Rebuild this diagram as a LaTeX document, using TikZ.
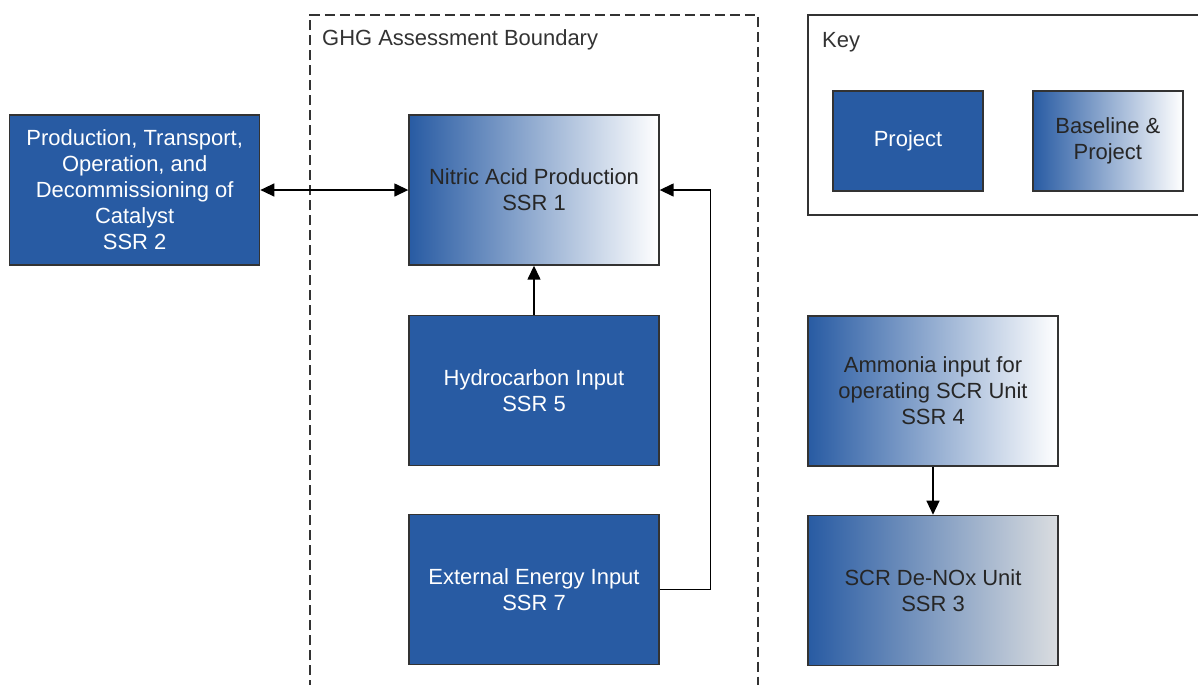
\documentclass[tikz,border=0pt]{standalone}
\usepackage{fontspec}
\setmainfont{Liberation Sans}
\usetikzlibrary{positioning,arrows.meta}
\definecolor{ssrblue}{RGB}{40,91,163}
\definecolor{ssrgray}{RGB}{218,221,224}
\begin{document}
\begin{tikzpicture}[x=0.02cm,y=-0.02cm,
	every node/.style={font=\fontsize{12.5}{14.8}\selectfont,align=center},
	ssr/.style={rectangle,draw=black!80,line width=0.8pt,
	minimum width=5cm,minimum height=3cm,inner sep=2pt},
	proj/.style={ssr,fill=ssrblue,text=white},
	base/.style={ssr,left color=ssrblue,right color=white,text=black!85},
	flow/.style={-{Triangle[length=2.8mm,width=2.6mm]},line width=0.8pt}]
\useasboundingbox (0,0) rectangle (1198,684);
% assessment boundary
\draw[line width=0.9pt,dash pattern=on 0.2cm off 0.1cm,black!80]
	(310,690) -- (310,15) -- (758,15) -- (758,690);
\node[anchor=west,text=black!80] (bndlbl) at (316,40) {GHG Assessment Boundary};
% key
\draw[line width=0.8pt,black!80] (1210,15) -- (808,15) -- (808,215) -- (1210,215);
\node[anchor=west,text=black!80] (keylbl) at (816,42) {Key};
\node[proj,minimum width=3cm,minimum height=2cm] (kproj) at (908,141) {Project};
\node[base,minimum width=3cm,minimum height=2cm,right=0.97cm of kproj] (kbase) {Baseline \&\\Project};
% main column
\node[base] (ssr1) at (534,190) {Nitric Acid Production\\SSR 1};
\node[proj,below=0.98cm of ssr1] (ssr5) {Hydrocarbon Input\\SSR 5};
\node[proj,below=0.95cm of ssr5] (ssr7) {External Energy Input\\SSR 7};
\node[proj,left=2.96cm of ssr1] (ssr2) {Production, Transport,\\Operation, and\\Decommissioning of\\Catalyst\\SSR 2};
% outside
\node[base] (ssr4) at (933,391) {Ammonia input for\\operating SCR Unit\\SSR 4};
\node[base,right color=ssrgray,below=0.96cm of ssr4] (ssr3) {SCR De-NOx Unit\\SSR 3};
% connectors
\draw[flow,{Triangle[length=2.8mm,width=2.6mm]}-{Triangle[length=2.8mm,width=2.6mm]}] (ssr2) -- (ssr1);
\draw[flow] (ssr5) -- (ssr1);
\draw[flow] (ssr7.east) -- ++(51,0) |- (ssr1.east);
\draw[flow] (ssr4) -- (ssr3);
\end{tikzpicture}
\end{document}
